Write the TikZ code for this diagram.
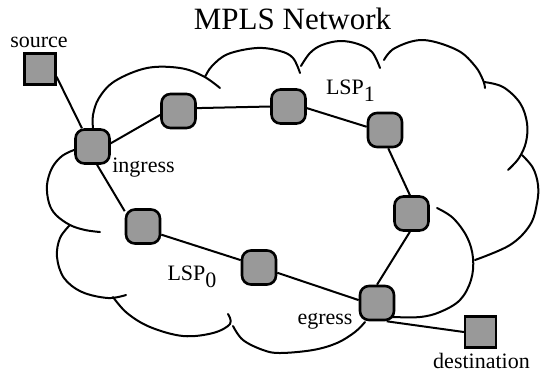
\documentclass[tikz,border=0pt]{standalone}
\usepackage{fontspec}
\setmainfont{Liberation Serif}
\definecolor{routergray}{RGB}{153,153,153}
\begin{document}
\begin{tikzpicture}[x=1pt,y=-1pt,
  router/.style={draw, line width=2.6pt, fill=routergray, rounded corners=9pt, minimum size=34pt, inner sep=0pt},
  host/.style={draw, line width=2.2pt, fill=routergray, minimum size=31pt, inner sep=0pt},
  link/.style={line width=2pt},
  cloudline/.style={line width=2pt, line cap=round, line join=round},
  lbl/.style={anchor=base, inner sep=0pt, font=\fontsize{22}{26}\selectfont},
  titlelbl/.style={anchor=base, inner sep=0pt, font=\fontsize{31}{35}\selectfont}]
\useasboundingbox (0,0) rectangle (540,376);

% cloud outline
\draw[cloudline] plot[smooth, tension=0.6] coordinates {(93,128) (93,115) (99,98) (115,81) (147,68) (180,68) (203,76) (220,88)};
\draw[cloudline] plot[smooth, tension=0.6] coordinates {(205,77) (212,66) (228,54) (257,48) (280,51) (293,58) (300,73)};
\draw[cloudline] plot[smooth, tension=0.6] coordinates {(301,66) (310,53) (322,45) (340,41) (358,44) (372,52) (380,68)};
\draw[cloudline] plot[smooth, tension=0.6] coordinates {(384,60) (395,48) (423,40) (457,50) (475,66) (483,80) (485,88)};
\draw[cloudline] plot[smooth, tension=0.6] coordinates {(484,82) (503,87) (520,103) (527,123) (526,142) (519,158) (508,170)};
\draw[cloudline] plot[smooth, tension=0.6] coordinates {(522,155) (533,168) (538,185) (537,203) (530,225) (510,245) (475,260)};
\draw[cloudline] plot[smooth, tension=0.6] coordinates {(437,208) (453,218) (467,237) (473,258) (471,280) (460,300) (440,312) (420,317) (393,317)};
\draw[cloudline] plot[smooth, tension=0.6] coordinates {(233,326) (243,340) (263,350) (280,353) (313,350) (337,343) (355,332) (365,322)};
\draw[cloudline] plot[smooth, tension=0.6] coordinates {(113,297) (127,313) (150,327) (183,336) (213,333) (230,324) (228,314)};
\draw[cloudline] plot[smooth, tension=0.6] coordinates {(70,225) (60,238) (57,257) (64,278) (82,292) (108,298) (126,295)};
\draw[cloudline] plot[smooth, tension=0.6] coordinates {(74,150) (62,156) (52,168) (47,185) (49,203) (56,215) (70,225) (85,230) (100,232)};

% nodes
\node[host] (source) at (40,69) {};
\node[host] (dest) at (480.5,332) {};
\node[router] (ingress) at (92.5,146.5) {};
\node[router] (n2) at (178.5,111) {};
\node[router] (n3) at (288.5,106.5) {};
\node[router] (n4) at (385,130) {};
\node[router] (n5) at (411.5,213.5) {};
\node[router] (egress) at (377,303) {};
\node[router] (n7) at (259,267.5) {};
\node[router] (n8) at (143,226.5) {};

% links
\draw[link] (source.-25) -- (ingress.120);
\draw[link] (ingress.10) -- (n2.-168);
\draw[link] (n2.9) -- (n3.180);
\draw[link] (n3.-5) -- (n4.170);
\draw[link] (n4.-80) -- (n5.95);
\draw[link] (n5.-95) -- (egress.90);
\draw[link] (egress.-62) -- (dest.180);
\draw[link] (ingress.-76) -- (n8.140);
\draw[link] (n8.-24) -- (n7.158);
\draw[link] (n7.-16) -- (egress.171);

% labels
\node[titlelbl] (title) at (292.5,29) {MPLS Network};
\node[lbl] (lsource) at (39,47) {source};
\node[lbl] (lingress) at (143.5,172) {ingress};
\node[lbl] (legress) at (325,324) {egress};
\node[lbl] (ldest) at (481.5,368) {destination};
\node[lbl] (llsp1) at (350.5,94) {LSP\raisebox{-7pt}{1}};
\node[lbl] (llsp0) at (192,280) {LSP\raisebox{-7pt}{0}};
\end{tikzpicture}
\end{document}
